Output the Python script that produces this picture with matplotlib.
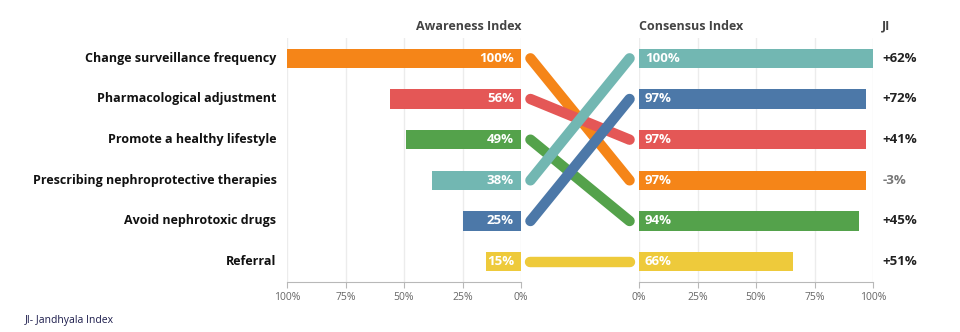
import matplotlib
matplotlib.use("Agg")
import matplotlib.pyplot as plt

categories = ["Change surveillance frequency", "Pharmacological adjustment",
              "Promote a healthy lifestyle", "Prescribing nephroprotective therapies",
              "Avoid nephrotoxic drugs", "Referral"]
awareness = [100, 56, 49, 38, 25, 15]
colors = ["#f58518", "#e45756", "#54a24b", "#72b7b2", "#4c78a8", "#eeca3b"]

# right side ordering (by consensus)
cons_order = ["Prescribing nephroprotective therapies", "Avoid nephrotoxic drugs",
              "Pharmacological adjustment", "Change surveillance frequency",
              "Promote a healthy lifestyle", "Referral"]
consensus = [100, 97, 97, 97, 94, 66]
ji_labels = ["+62%", "+72%", "+41%", "-3%", "+45%", "+51%"]
tick_vals = [0, 25, 50, 75, 100]
tick_labels = ["0%", "25%", "50%", "75%", "100%"]

FONT = ["Open Sans", "DejaVu Sans"]
plt.rcParams['font.family'] = FONT

fig = plt.figure(figsize=(9.6, 3.32), dpi=100)
W, H = 960, 332
top_px, bot_px = 38, 282
def ax_rect(x0, x1):
    return [x0 / W, (H - bot_px) / H, (x1 - x0) / W, (bot_px - top_px) / H]

axL = fig.add_axes(ax_rect(287, 521))
axM = fig.add_axes(ax_rect(521, 639))
axR = fig.add_axes(ax_rect(639, 873))

n = len(categories)
color_map = dict(zip(categories, colors))

def style(ax):
    ax.set_ylim(n - 0.5, -0.5)
    for s in ["top", "right", "left"]:
        ax.spines[s].set_visible(False)
    ax.spines["bottom"].set_color("#b8b8b8")
    ax.set_yticks([])
    ax.set_xticks(tick_vals)
    ax.set_xticklabels(tick_labels)
    ax.tick_params(axis="x", colors="#b8b8b8", labelcolor="#666666", labelsize=7.5,
                   length=4, pad=3)
    ax.grid(axis="x", color="#ececec", linewidth=1)
    ax.set_axisbelow(True)

# Left: awareness
style(axL)
axL.set_xlim(100, 0)
axL.barh(range(n), awareness, height=0.48, color=colors)
for i, v in enumerate(awareness):
    axL.text(3, i, f"{v}%", ha="right", va="center", color="white",
             fontsize=9.5, fontweight="bold")
for i, c in enumerate(categories):
    axL.text(-0.045, i, c, transform=axL.get_yaxis_transform(), ha="right",
             va="center", fontsize=9, fontweight="bold", color="#111111")

# Right: consensus
style(axR)
axR.set_xlim(0, 100)
rcolors = [color_map[c] for c in cons_order]
axR.barh(range(n), consensus, height=0.48, color=rcolors)
for i, v in enumerate(consensus):
    axR.text(2.5, i, f"{v}%", ha="left", va="center", color="white",
             fontsize=9.5, fontweight="bold")
for i, t in enumerate(ji_labels):
    axR.text(1.04, i, t, transform=axR.get_yaxis_transform(), ha="left",
             va="center", fontsize=9.5, fontweight="bold",
             color="#777777" if t.startswith("-") else "#222222")

# Middle: slope lines
axM.set_xlim(0, 1)
axM.set_ylim(n - 0.5, -0.5)
axM.axis("off")
for i, c in enumerate(categories):
    j = cons_order.index(c)
    axM.plot([0.08, 0.92], [i, j], color=color_map[c], linewidth=7.5,
             solid_capstyle="round")

# Headers
fig.text(521 / W, 1 - 26 / H, "Awareness Index", ha="right", va="center",
         fontsize=9, fontweight="bold", color="#444444")
fig.text(639 / W, 1 - 26 / H, "Consensus Index", ha="left", va="center",
         fontsize=9, fontweight="bold", color="#444444")
fig.text(882 / W, 1 - 26 / H, "JI", ha="left", va="center",
         fontsize=9, fontweight="bold", color="#444444")

fig.text(25 / W, 1 - 320 / H, "JI- Jandhyala Index", ha="left", va="center",
         fontsize=7.5, color="#1a1a4a")

fig.savefig("out.png", dpi=100)
